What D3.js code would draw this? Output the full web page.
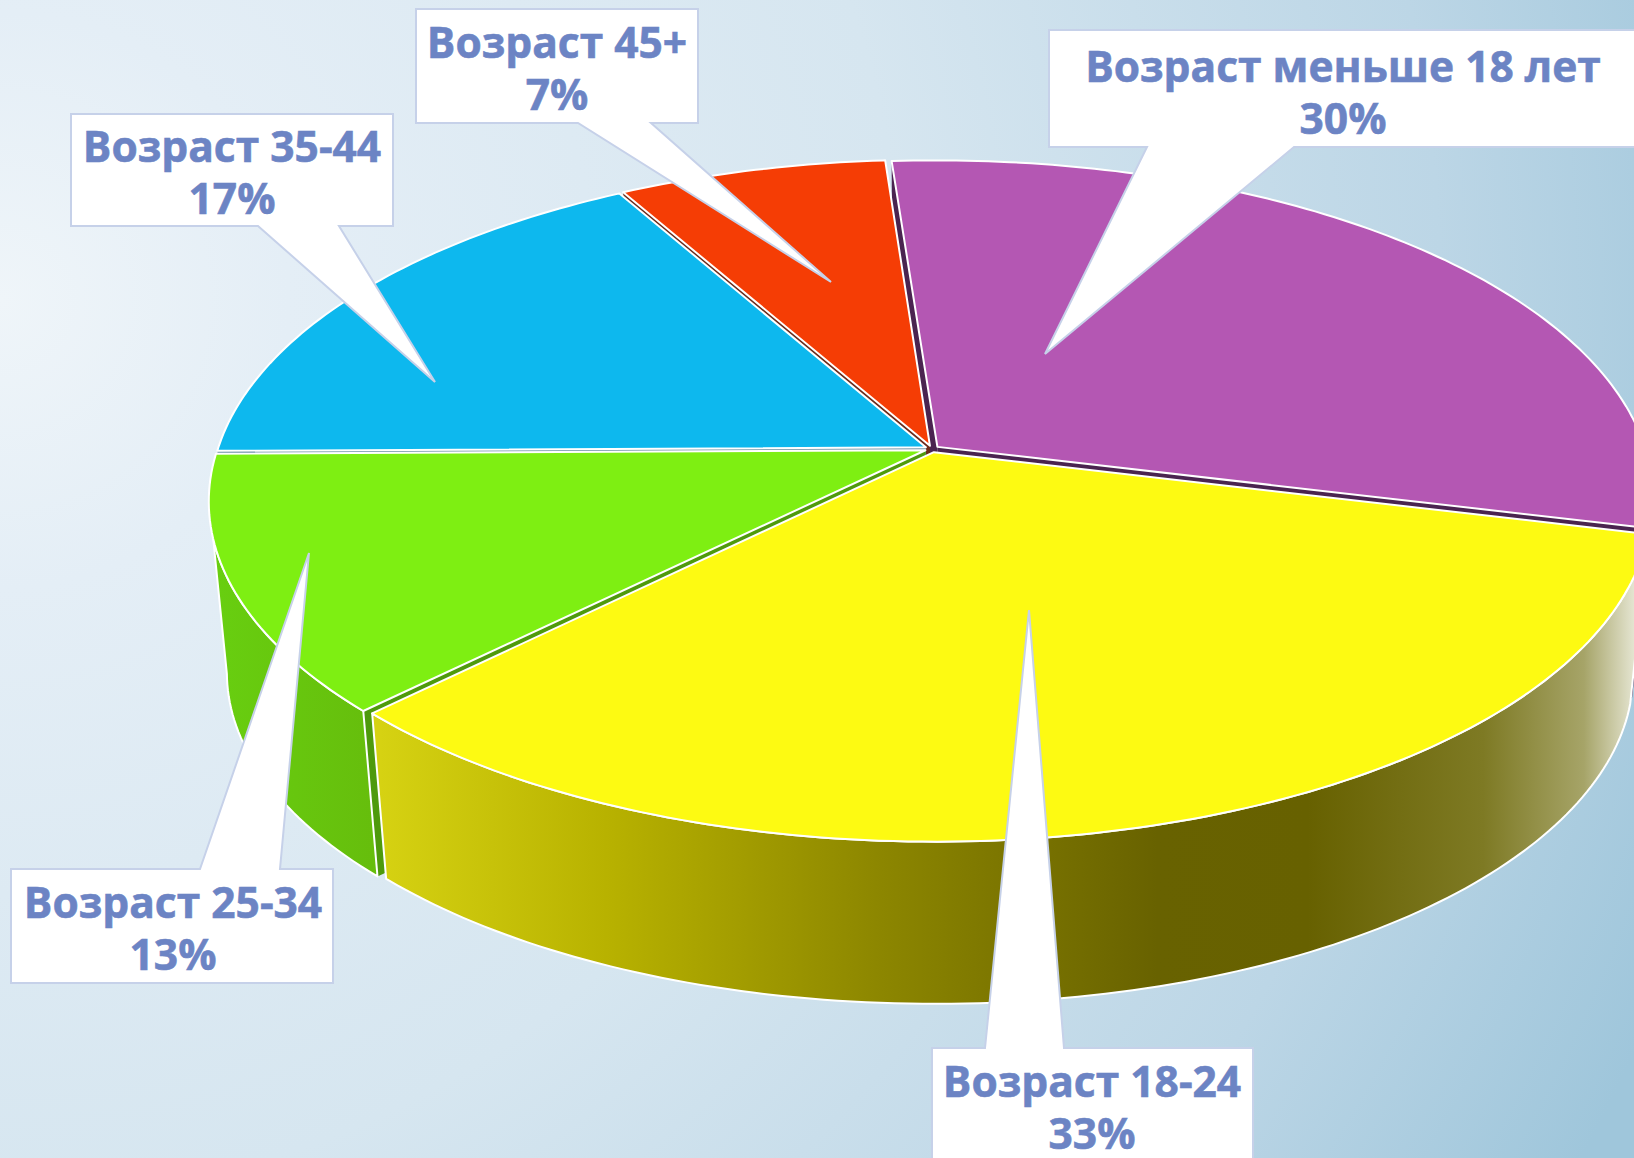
<!DOCTYPE html>
<html>
<head>
<meta charset="utf-8">
<title>Возраст</title>
<script src="https://cdn.jsdelivr.net/npm/d3@7/dist/d3.min.js"></script>
<style>
    html, body { margin: 0; padding: 0; overflow: hidden; background: #dce9f2; }
    svg { display: block; }
    text { font-family: "Open Sans", "Noto Sans", sans-serif; font-weight: 700; fill: #6c84c4; text-anchor: middle; stroke: #6c84c4; stroke-width: 0.6; }
</style>
</head>
<body>
<svg id="chart" width="1634" height="1158"></svg>
<script>
var categories = [ 'Возраст меньше 18 лет', 'Возраст 18-24', 'Возраст 25-34', 'Возраст 35-44', 'Возраст 45+' ],
    percents = [ 30, 33, 13, 17, 7 ],
    sliceShares = [ 30, 33.7, 12.3, 17, 7 ];

var topColors = [ '#b457b3', '#fdfa12', '#7eef12', '#0db8ee', '#f53d05' ],
    wallColors = [ '#4a2450', '#65600a', '#4e9a0c', '#6d93a6', '#6b2c1c' ];

// back to front, the painter's order of the slices
var paintOrder = [ 0, 4, 3, 2, 1 ];

// callout boxes: x0, y0, x1, y1, then tail base left / right and tail tip
var calloutBoxes = [
    [ 1049, 30, 1650, 147, 1147, 1294, 1045, 354 ],
    [ 932, 1048, 1253, 1175, 985, 1064, 1029, 610 ],
    [ 11, 869, 333, 983, 200, 280, 309, 553 ],
    [ 71, 114, 393, 226, 258, 339, 435, 382 ],
    [ 416, 9, 698, 123, 578, 651, 831, 282 ]
];

var width = 1634,
    height = 1158,
    pivotX = 932,
    pivotY = 449,
    radiusX = 708,
    radiusY = 330,
    tilt = 0.15,
    depth = 172,
    shrink = 0.975,
    explode = 0.01,
    rimStep = Math.PI / 180;

var svg = d3.select( '#chart' ),
    defs = svg.append( 'defs' );

var bg = defs.append( 'radialGradient' ).attr( 'id', 'bg' )
    .attr( 'gradientUnits', 'userSpaceOnUse' )
    .attr( 'cx', 0 ).attr( 'cy', 300 ).attr( 'r', 1800 );
[ [ 0, '#eff5f9' ], [ 0.16, '#e4eef6' ], [ 0.5, '#d6e6f0' ], [ 0.8, '#bcd6e6' ], [ 1, '#9fc6db' ] ].forEach( function( s ){
    bg.append( 'stop' ).attr( 'offset', s[0] ).attr( 'stop-color', s[1] );
});

var yellowSide = defs.append( 'linearGradient' ).attr( 'id', 'side1' )
    .attr( 'gradientUnits', 'userSpaceOnUse' )
    .attr( 'x1', 380 ).attr( 'x2', 1634 ).attr( 'y1', 0 ).attr( 'y2', 0 );
[ [ 0, '#d6d212' ], [ 0.18, '#b8b200' ], [ 0.4, '#8c8600' ], [ 0.62, '#686200' ], [ 0.74, '#676100' ],
  [ 0.88, '#7e7a24' ], [ 0.96, '#a6a468' ], [ 1, '#e4e4d0' ] ].forEach( function( s ){
    yellowSide.append( 'stop' ).attr( 'offset', s[0] ).attr( 'stop-color', s[1] );
});

var greenSide = defs.append( 'linearGradient' ).attr( 'id', 'side2' )
    .attr( 'gradientUnits', 'userSpaceOnUse' )
    .attr( 'x1', 210 ).attr( 'x2', 380 ).attr( 'y1', 0 ).attr( 'y2', 0 );
greenSide.append( 'stop' ).attr( 'offset', 0 ).attr( 'stop-color', '#68cf10' );
greenSide.append( 'stop' ).attr( 'offset', 1 ).attr( 'stop-color', '#66bd0c' );

svg.append( 'rect' ).attr( 'width', width ).attr( 'height', height ).attr( 'fill', 'url(#bg)' );

// point on the tilted disc: t is the screen angle, r the fraction of the radius
function project( t, r, offset, lower ){
    var u = Math.cos( t ) * r + offset[0],
        v = Math.sin( t ) * r + offset[1],
        d = 1 - tilt * v,
        s = lower ? shrink : 1;

    return [
        pivotX + s * radiusX * u / d,
        pivotY + ( lower ? depth : 0 ) + s * radiusY * v / d
    ];
}

function rim( t0, t1, offset, lower ){
    var pts = d3.range( t0, t1, rimStep ).concat( [ t1 ] );
    return pts.map( function( t ){ return project( t, 1, offset, lower ); } );
}

var pie = d3.pie().sort( null )
        .startAngle( -4.2 * Math.PI / 180 )
        .endAngle( 2 * Math.PI - 4.2 * Math.PI / 180 ),
    arcs = pie( sliceShares ),
    line = d3.line();

// d3 pie angles run clockwise from 12 o'clock
function screenAngle( a ){ return a - Math.PI / 2; }

// the outer wall stops at the disc silhouette, the top and lower rim at different angles
var silhouetteTop = 165 * Math.PI / 180,
    silhouetteLow = 171 * Math.PI / 180,
    sideFills = { 1 : 'url(#side1)', 2 : 'url(#side2)' };

paintOrder.forEach( function( i ){
    var a = arcs[i],
        t0 = screenAngle( a.startAngle ),
        t1 = screenAngle( a.endAngle ),
        mid = ( t0 + t1 ) / 2,
        offset = [ Math.cos( mid ) * explode, Math.sin( mid ) * explode ],
        center = project( 0, 0, offset, false ),
        centerLow = project( 0, 0, offset, true ),
        g = svg.append( 'g' ).attr( 'class', 'slice' );

    // cut faces, only the sliver in the gap stays visible once the next slices are on top
    [ t0, t1 ].forEach( function( t ){
        g.append( 'path' )
            .attr( 'd', line( [ center, project( t, 1, offset, false ), project( t, 1, offset, true ), centerLow ] ) + 'Z' )
            .attr( 'fill', wallColors[i] )
            .attr( 'stroke', 'none' );
    });

    if ( sideFills[i] ){
        var upper = rim( t0, Math.min( t1, silhouetteTop ), offset, false ),
            lower = rim( t0, Math.min( t1, silhouetteLow ), offset, true );

        g.append( 'path' )
            .attr( 'd', line( upper.concat( lower.reverse() ) ) + 'Z' )
            .attr( 'fill', sideFills[i] )
            .attr( 'stroke', '#fff' )
            .attr( 'stroke-width', 2 )
            .attr( 'stroke-linejoin', 'round' );
    }

    g.append( 'path' )
        .attr( 'd', line( [ center ].concat( rim( t0, t1, offset, false ) ) ) + 'Z' )
        .attr( 'fill', topColors[i] )
        .attr( 'stroke', '#fff' )
        .attr( 'stroke-width', 2 )
        .attr( 'stroke-linejoin', 'round' );
});

function calloutPath( b ){
    var x0 = b[0], y0 = b[1], x1 = b[2], y1 = b[3], tailA = b[4], tailB = b[5], tip = [ b[6], b[7] ],
        pts;

    // tail leaves from the nearest horizontal side of the box
    if ( tip[1] > y1 ){
        pts = [ [ x0, y0 ], [ x1, y0 ], [ x1, y1 ], [ tailB, y1 ], tip, [ tailA, y1 ], [ x0, y1 ] ];
    } else {
        pts = [ [ x0, y0 ], [ tailA, y0 ], tip, [ tailB, y0 ], [ x1, y0 ], [ x1, y1 ], [ x0, y1 ] ];
    }
    return line( pts ) + 'Z';
}

var labelX = [ 1343, 1092, 173, 232, 557 ],
    baselines = [ 82, 1097, 918, 162, 58 ],
    lineGap = 52;

var callouts = svg.selectAll( 'g.callout' )
    .data( categories )
    .enter().append( 'g' ).attr( 'class', 'callout' );

callouts.append( 'path' )
    .attr( 'd', function( d, i ){ return calloutPath( calloutBoxes[i] ); } )
    .attr( 'fill', '#fff' )
    .attr( 'stroke', '#c6d1e9' )
    .attr( 'stroke-width', 2 );

callouts.append( 'text' )
    .attr( 'x', function( d, i ){ return labelX[i]; } )
    .attr( 'y', function( d, i ){ return baselines[i]; } )
    .attr( 'font-size', 42.5 )
    .text( function( d ){ return d; } );

callouts.append( 'text' )
    .attr( 'x', function( d, i ){ return labelX[i]; } )
    .attr( 'y', function( d, i ){ return baselines[i] + lineGap; } )
    .attr( 'font-size', 42.5 )
    .text( function( d, i ){ return percents[i] + '%'; } );
</script>
</body>
</html>
